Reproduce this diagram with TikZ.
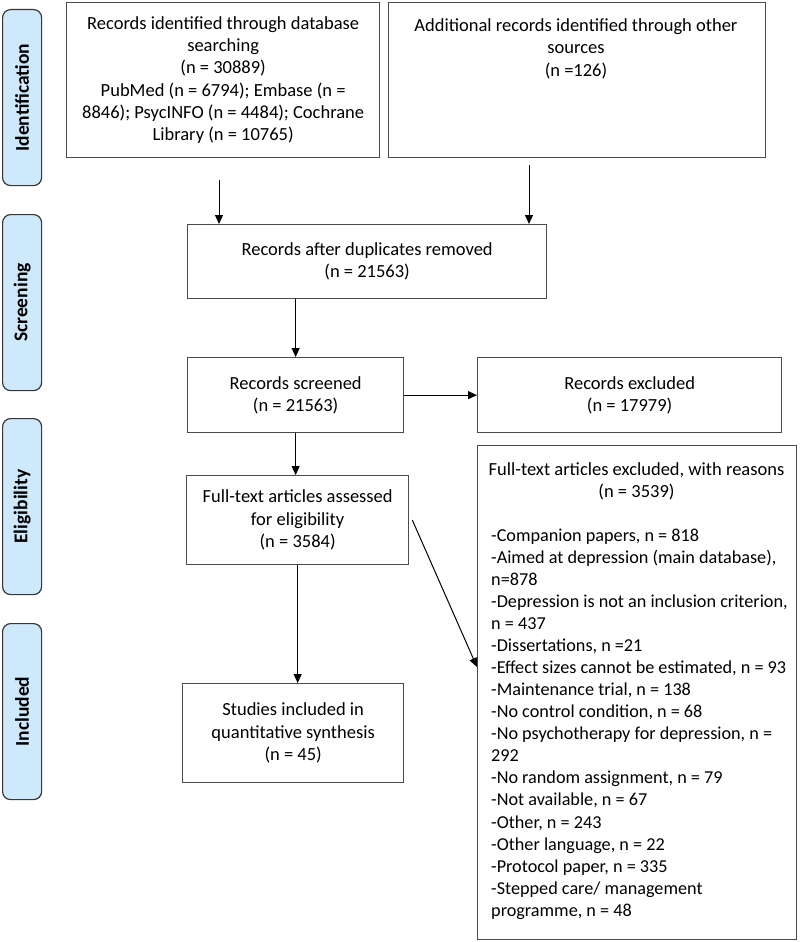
\documentclass[tikz,border=0pt]{standalone}
\usepackage{fontspec}
\setmainfont{Carlito}
\usetikzlibrary{arrows.meta,calc}
\definecolor{labblue}{RGB}{206,233,252}
\definecolor{labgray}{RGB}{55,55,55}
\definecolor{boxgray}{RGB}{75,75,75}
\begin{document}
\begin{tikzpicture}[x=1pt,y=-1pt,
  box/.style={draw=boxgray,line width=1.3pt,inner sep=0pt,anchor=north west},
  lab/.style={draw=labgray,fill=labblue,rounded corners=8pt,line width=1.2pt,anchor=north west,inner sep=0pt,minimum width=39pt,minimum height=176pt},
  labtxt/.style={rotate=90,font=\fontsize{19.5}{22}\selectfont\bfseries,inner sep=0pt},
  arr/.style={-{Triangle[length=9pt,width=8pt]},line width=1pt,draw=black},
  txt/.style={align=center,font=\fontsize{18.5}{22.3}\selectfont,inner sep=0pt},
  ltxt/.style={align=left,font=\fontsize{18.2}{22.06}\selectfont,inner sep=0pt}
]
\useasboundingbox (0,0) rectangle (800,942);
% side labels
\node[lab] (l1) at (2,9) {};
\node[labtxt] at (l1.center) {Identification};
\node[lab] (l2) at (2,214) {};
\node[labtxt] at (l2.center) {Screening};
\node[lab] (l3) at (2,418) {};
\node[labtxt] at (l3.center) {Eligibility};
\node[lab] (l4) at (2,623) {};
\node[labtxt] at (l4.center) {Included};
% boxes
\node[box,txt,minimum width=313pt,minimum height=155pt] (b1) at (66,2) {Records identified through database\\searching\\(n = 30889)\\PubMed (n = 6794); Embase (n =\\8846); PsycINFO (n = 4484); Cochrane\\Library (n = 10765)};
\node[box,minimum width=377pt,minimum height=155pt] (b2) at (388,2) {};
\node[txt,anchor=north] (b2t) at (576,18.5) {Additional records identified through other\\sources\\(n =126)};
\node[box,txt,minimum width=359pt,minimum height=74pt] (b3) at (187,224) {Records after duplicates removed\\(n = 21563)};
\node[box,txt,minimum width=216pt,minimum height=75pt] (b4) at (187,357) {Records screened\\(n = 21563)};
\node[box,txt,minimum width=304pt,minimum height=75pt] (b5) at (477,357) {Records excluded\\(n = 17979)};
\node[box,txt,minimum width=222pt,minimum height=89pt] (b6) at (186,475) {Full-text articles assessed\\for eligibility\\(n = 3584)};
\node[box,txt,minimum width=221pt,minimum height=99pt] (b7) at (182,683) {Studies included in\\quantitative synthesis\\(n = 45)};
\node[box,minimum width=319pt,minimum height=494pt] (b8) at (477,445) {};
\node[txt,anchor=north] (b8h) at (636.5,462.5) {Full-text articles excluded, with reasons\\(n = 3539)};
\node[ltxt,anchor=north west] (b8l) at (491,528.5) {-Companion papers, n = 818\\
-Aimed at depression (main database),\\
n=878\\
-Depression is not an inclusion criterion,\\
n = 437\\
-Dissertations, n =21\\
-Effect sizes cannot be estimated, n = 93\\
-Maintenance trial, n = 138\\
-No control condition, n = 68\\
-No psychotherapy for depression, n =\\
292\\
-No random assignment, n = 79\\
-Not available, n = 67\\
-Other, n = 243\\
-Other language, n = 22\\
-Protocol paper, n = 335\\
-Stepped care/ management\\
programme, n = 48};
% connectors
\coordinate (a1) at (219,180);
\coordinate (a2) at (529,165);
\draw[arr] (a1) -- (a1 |- b3.north);
\draw[arr] (a2) -- (a2 |- b3.north);
\draw[arr] (b4.north |- b3.south) -- (b4.north);
\draw[arr] (b4.east) -- (b5.west);
\draw[arr] (b4.south) -- (b4.south |- b6.north);
\draw[arr] (b6.south) -- (b6.south |- b7.north);
\coordinate (d1) at ($(b6.north east)+(3,45)$);
\coordinate (d2) at ($(b8.north west)+(0,222)$);
\draw[arr] (d1) -- (d2);
\end{tikzpicture}
\end{document}
